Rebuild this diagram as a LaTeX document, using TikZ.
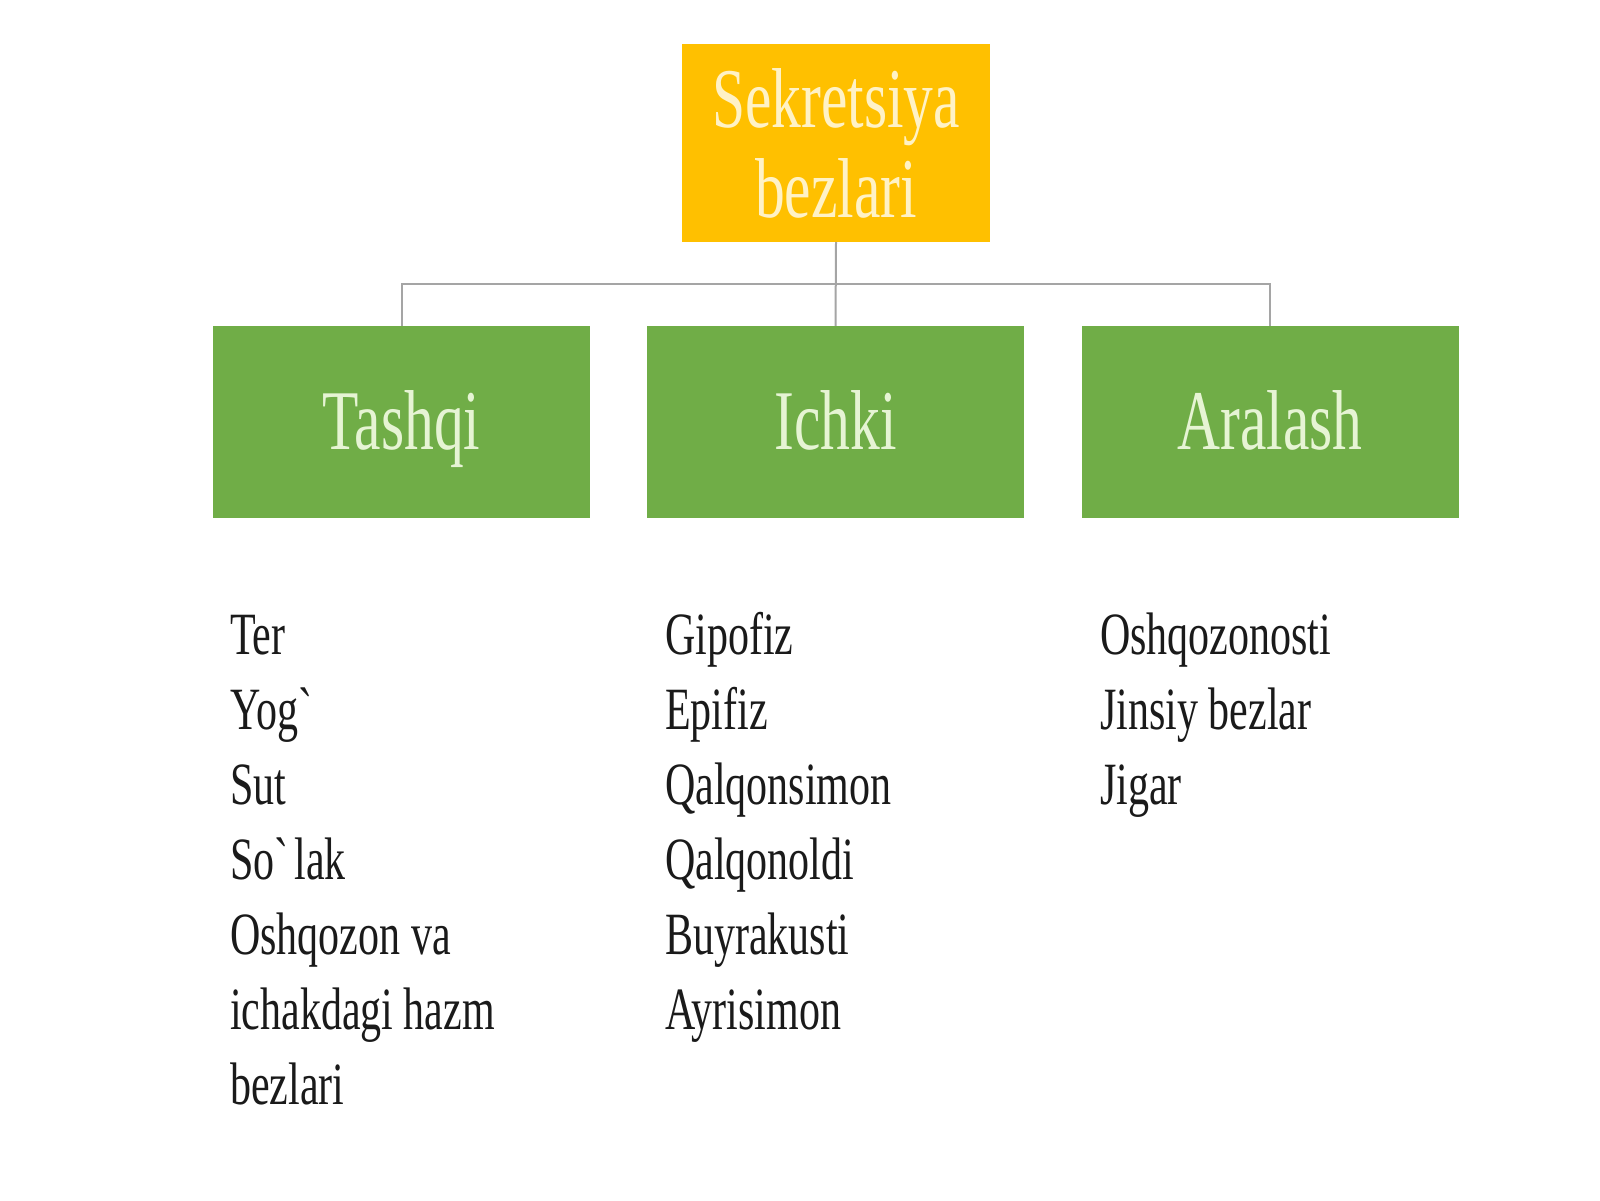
\documentclass[tikz,border=0pt]{standalone}
\usepackage{fontspec}
\setmainfont{Liberation Serif}[FakeStretch=0.7]
\usetikzlibrary{calc}
\definecolor{gold}{HTML}{FFC000}
\definecolor{grn}{HTML}{70AD47}
\definecolor{cream}{HTML}{FFF2C6}
\definecolor{mint}{HTML}{E6F4D4}
\definecolor{wire}{HTML}{A5A5A5}
\definecolor{ink}{HTML}{1A1A1A}
\tikzset{
  topBox/.style={fill=gold, minimum width=308pt, minimum height=198pt, inner sep=0pt,
    align=center, text=cream, font=\fontsize{85}{90}\selectfont},
  grnBox/.style={fill=grn, minimum width=377pt, minimum height=192pt, inner sep=0pt,
    text height=60pt, text depth=6pt, text=mint, font=\fontsize{85}{90}\selectfont},
  conn/.style={draw=wire, line width=2pt},
  item/.style={anchor=base west, inner sep=0pt, text=ink, font=\fontsize{60}{64}\selectfont}
}
\begin{document}
\begin{tikzpicture}[x=1pt, y=-1pt]
  \useasboundingbox (0,0) rectangle (1600,1200);

  \node[topBox] (top) at (836,143) {Sekretsiya\\bezlari};

  \node[grnBox] (tashqi) at (401.5,422) {Tashqi};
  \node[grnBox] (ichki) at (835.5,422) {Ichki};
  \node[grnBox] (aralash) at (1270,422) {Aralash};

  \coordinate (bus) at ($(top.south)!0.5!(ichki.north)$);
  \draw[conn] (top.south) -- (ichki.north);
  \draw[conn] (tashqi.north) |- (bus) -| (aralash.north);

  % ro'yxatlar
  \foreach \txt [count=\i from 0] in {Ter, Yog\textasciigrave, Sut, So\textasciigrave lak, Oshqozon va, ichakdagi hazm, bezlari}
    \node[item] (tq\i) at (230,654+75*\i) {\txt};
  \foreach \txt [count=\i from 0] in {Gipofiz, Epifiz, Qalqonsimon, Qalqonoldi, Buyrakusti, Ayrisimon}
    \node[item] (ic\i) at (665,654+75*\i) {\txt};
  \foreach \txt [count=\i from 0] in {Oshqozonosti, Jinsiy bezlar, Jigar}
    \node[item] (ar\i) at (1100,654+75*\i) {\txt};
\end{tikzpicture}
\end{document}
